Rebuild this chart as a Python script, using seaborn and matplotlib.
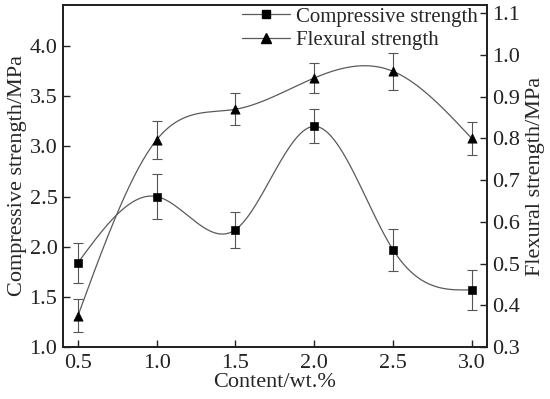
import numpy as np
import pandas as pd
import matplotlib
matplotlib.use("Agg")
import matplotlib.pyplot as plt
import seaborn as sns
from matplotlib.lines import Line2D

content = [0.5, 1.0, 1.5, 2.0, 2.5, 3.0]
compressive = [1.84, 2.50, 2.17, 3.20, 1.97, 1.57]
compressive_err = [0.20, 0.22, 0.18, 0.17, 0.21, 0.20]
flexural = [0.375, 0.797, 0.870, 0.945, 0.961, 0.800]
flexural_err = [0.040, 0.046, 0.038, 0.037, 0.044, 0.040]
xticks = [0.5, 1.0, 1.5, 2.0, 2.5, 3.0]
left_ticks = [1.0, 1.5, 2.0, 2.5, 3.0, 3.5, 4.0]
right_ticks = [0.3, 0.4, 0.5, 0.6, 0.7, 0.8, 0.9, 1.0, 1.1]


def natural_spline(x, y, n=300):
    x = np.asarray(x, float)
    y = np.asarray(y, float)
    k = len(x)
    h = np.diff(x)
    A = np.zeros((k, k))
    b = np.zeros(k)
    A[0, 0] = A[-1, -1] = 1
    for i in range(1, k - 1):
        A[i, i - 1] = h[i - 1]
        A[i, i] = 2 * (h[i - 1] + h[i])
        A[i, i + 1] = h[i]
        b[i] = 6 * ((y[i + 1] - y[i]) / h[i] - (y[i] - y[i - 1]) / h[i - 1])
    M = np.linalg.solve(A, b)
    xs = np.linspace(x[0], x[-1], n)
    idx = np.clip(np.searchsorted(x, xs) - 1, 0, k - 2)
    x0, x1 = x[idx], x[idx + 1]
    hh = x1 - x0
    ys = (M[idx] * (x1 - xs) ** 3 / (6 * hh) + M[idx + 1] * (xs - x0) ** 3 / (6 * hh)
          + (y[idx] / hh - M[idx] * hh / 6) * (x1 - xs)
          + (y[idx + 1] / hh - M[idx + 1] * hh / 6) * (xs - x0))
    return xs, ys


sns.set_style("ticks")
plt.rcParams['font.family'] = ['Liberation Serif', 'DejaVu Serif']
plt.rcParams['mathtext.fontset'] = 'stix'

fig = plt.figure(figsize=(5.5, 3.99), dpi=100)
ax = fig.add_axes([0.1145, 0.1303, 0.7705, 0.8572])
ax2 = ax.twinx()

line_col = '#5a5a5a'
fs = 16

# compressive
xs, ys = natural_spline(content, compressive)
sns.lineplot(x=xs, y=ys, ax=ax, color=line_col, lw=0.9, zorder=2)
ax.errorbar(content, compressive, yerr=compressive_err, fmt='none', ecolor='#555555',
            elinewidth=0.8, capsize=3.3, capthick=0.8, zorder=3)
sns.scatterplot(x=content, y=compressive, ax=ax, marker='s', color='black', s=32,
                edgecolor='black', zorder=4)

# flexural
xf, yf = natural_spline(content, flexural)
sns.lineplot(x=xf, y=yf, ax=ax2, color=line_col, lw=0.9, zorder=2)
ax2.errorbar(content, flexural, yerr=flexural_err, fmt='none', ecolor='#555555',
             elinewidth=0.8, capsize=3.3, capthick=0.8, zorder=3)
sns.scatterplot(x=content, y=flexural, ax=ax2, marker='^', color='black', s=44,
                edgecolor='black', zorder=4)

ax.set_xlim(0.405, 3.095)
ax.set_ylim(1.0, 4.41)
ax2.set_ylim(0.3, 1.12)
ax.set_xticks(xticks)
ax.set_xticklabels([f"{t:.1f}" for t in xticks], fontsize=fs)
ax.set_yticks(left_ticks)
ax.set_yticklabels([f"{t:.1f}" for t in left_ticks], fontsize=fs)
ax2.set_yticks(right_ticks)
ax2.set_yticklabels([f"{t:.1f}" for t in right_ticks], fontsize=fs)

for a in (ax, ax2):
    a.tick_params(direction='in', length=5, width=1.0, pad=4, colors='#222222')
    for s in a.spines.values():
        s.set_linewidth(1.3)
        s.set_color('#222222')
        s.set_visible(True)
ax.tick_params(axis='x', pad=5)

ax.set_xlabel("Content/wt.%", fontsize=fs, labelpad=0)
ax.set_ylabel("Compressive strength/MPa", fontsize=fs, labelpad=2)
ax2.set_ylabel("Flexural strength/MPa", fontsize=fs, labelpad=4)

handles = [
    Line2D([], [], color=line_col, lw=0.9, marker='s', markersize=5.5,
           markerfacecolor='black', markeredgecolor='black'),
    Line2D([], [], color=line_col, lw=0.9, marker='^', markersize=6.5,
           markerfacecolor='black', markeredgecolor='black'),
]
ax.legend(handles, ["Compressive strength", "Flexural strength"], loc='upper right',
          frameon=False, fontsize=15, handlelength=2.3, handletextpad=0.3,
          labelspacing=0.2, borderaxespad=0.0, borderpad=0.1,
          bbox_to_anchor=(0.985, 1.0))

fig.savefig("out.png", dpi=100)
